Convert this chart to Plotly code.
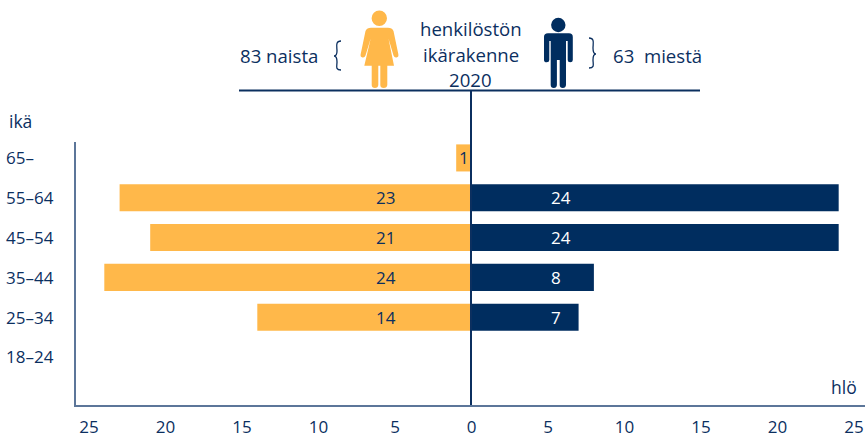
import plotly.graph_objects as go

ages = ["18–24", "25–34", "35–44", "45–54", "55–64", "65–"]
women = [0, 14, 24, 21, 23, 1]
men = [0, 7, 8, 24, 24, 0]
tick_vals = [-25, -20, -15, -10, -5, 0, 5, 10, 15, 20, 25]
tick_text = ["25", "20", "15", "10", "5", "0", "5", "10", "15", "20", "25"]

NAVY = "#0B2F5F"
BAR_NAVY = "#002D5F"
YEL = "#FFB84A"
FONT = "Open Sans"
W, H = 865, 436
L, R, T, B = 76, 865, 142, 405


def px(x):
    return (x - L) / (R - L)


def py(y):
    return (B - y) / (B - T)


def P(cmds):
    out = []
    for c in cmds:
        if isinstance(c, str):
            out.append(c)
        else:
            out.append(f"{px(c[0]):.5f},{py(c[1]):.5f}")
    return " ".join(out)


def blob(cmds, color):
    return dict(type="path", xref="paper", yref="paper", path=P(cmds), fillcolor=color,
                line=dict(color=color, width=0), layer="above")


def circ(cx, cy, r, color):
    return dict(type="circle", xref="paper", yref="paper", x0=px(cx - r), x1=px(cx + r),
                y0=py(cy + r), y1=py(cy - r), fillcolor=color, line=dict(width=0))


def hline(x0, x1, y, width, color=NAVY):
    return dict(type="line", xref="paper", yref="paper", x0=px(x0), x1=px(x1), y0=py(y), y1=py(y),
                line=dict(color=color, width=width))


def stroke(cmds, width=1.3):
    return dict(type="path", xref="paper", yref="paper", path=P(cmds),
                line=dict(color=NAVY, width=width), fillcolor="rgba(0,0,0,0)")


shapes = [
    hline(239, 700, 90.5, 2),
    dict(type="line", xref="paper", yref="paper", x0=px(471), x1=px(471), y0=py(90), y1=py(405),
         line=dict(color=NAVY, width=2), layer="above"),
    circ(379.3, 18.3, 7.7, YEL),
    blob(["M", (371, 27.7), "L", (388, 27.7), "Q", (392, 27.7), (393.5, 31), "L", (398.3, 54), "Q", (399, 57), (396.5, 57.5),
          "Q", (394.5, 58), (393.5, 55.5), "L", (388.5, 38.5), "L", (394, 65.7), "L", (387.3, 65.7), "L", (387.3, 85),
          "Q", (387, 88), (383.7, 88), "Q", (380.3, 88), (380.3, 85), "L", (380.3, 65.7), "L", (378.3, 65.7), "L", (378.3, 85),
          "Q", (378, 88), (375, 88), "Q", (371.7, 88), (371.7, 85), "L", (371.7, 65.7), "L", (364.3, 65.7), "L", (370.7, 38.5),
          "L", (365.5, 55.5), "Q", (364.5, 58), (362.5, 57.5), "Q", (360, 57), (360.7, 54), "L", (365.5, 31),
          "Q", (367, 27.7), (371, 27.7), "Z"], YEL),
    circ(558.3, 25, 7.2, BAR_NAVY),
    blob(["M", (548, 33.3), "L", (569, 33.3), "Q", (572.8, 33.3), (572.8, 37), "L", (572.8, 60), "Q", (572.8, 62.3), (570.2, 62.3),
          "Q", (567.7, 62.3), (567.7, 60), "L", (567.7, 41), "L", (566, 41), "L", (566, 85), "Q", (565.7, 88), (562.8, 88),
          "Q", (559.7, 88), (559.7, 85), "L", (559.7, 60), "L", (556.9, 60), "L", (556.9, 85), "Q", (556.7, 88), (553.8, 88),
          "Q", (550.7, 88), (550.7, 85), "L", (550.7, 41), "L", (549.3, 41), "L", (549.3, 60), "Q", (549.3, 62.3), (546.7, 62.3),
          "Q", (544, 62.3), (544, 60), "L", (544, 37), "Q", (544, 33.3), (548, 33.3), "Z"], BAR_NAVY),
    stroke(["M", (341, 41), "C", (335, 41), (337, 47), (337, 51), "C", (337, 55), (336, 56), (334, 56),
            "C", (336, 56), (337, 58), (337, 62), "C", (337, 66), (335, 70), (341, 70)]),
    stroke(["M", (589, 38), "C", (595, 38), (593, 44), (593, 48), "C", (593, 52), (594, 54), (596, 54),
            "C", (594, 54), (593, 56), (593, 60), "C", (593, 64), (595, 68), (589, 68)]),
]

fig = go.Figure()
fig.add_bar(y=ages, x=[-v if v else None for v in women], orientation="h", marker=dict(color=YEL, line_width=0),
            hoverinfo="skip", showlegend=False)
fig.add_bar(y=ages, x=[v if v else None for v in men], orientation="h", marker=dict(color=BAR_NAVY, line_width=0),
            hoverinfo="skip", showlegend=False)

ann = []


def note(x, y, text, size=18.6, anchor="center"):
    ann.append(dict(xref="paper", yref="paper", x=px(x), y=py(y), text=text, showarrow=False, xanchor=anchor,
                    yanchor="middle", font=dict(family=FONT, size=size, color=NAVY)))


for a, w, m in zip(ages, women, men):
    ann.append(dict(xref="paper", yref="y", x=px(4), y=a, text=a, showarrow=False, xanchor="left",
                    font=dict(family=FONT, size=17, color=NAVY), yanchor="middle"))
    if w:
        ann.append(dict(xref="x", yref="y", x=-5.6 if w > 1 else -0.5, y=a, text=str(w), showarrow=False,
                        font=dict(family=FONT, size=17, color=NAVY)))
    if m:
        ann.append(dict(xref="x", yref="y", x=5.5, xshift=5 if m >= 10 else 0, y=a, text=str(m), showarrow=False,
                        font=dict(family=FONT, size=17, color="#FFFFFF")))

note(279, 55.5, "83 naista")
note(657, 55.5, "63  miestä")
note(470.5, 28, "henkilöstön")
note(470.5, 54, "ikärakenne")
note(470.5, 79.5, "2020")
note(7, 121, "ikä", anchor="left", size=17.5)
note(844, 387, "hlö", size=17.5)

fig.update_layout(
    width=W, height=H, autosize=False, barmode="relative", bargap=0.32,
    margin=dict(l=L, r=W - R, t=T, b=H - B, pad=0),
    paper_bgcolor="white", plot_bgcolor="white",
    font=dict(family=FONT, size=17, color=NAVY),
    shapes=shapes, annotations=ann, showlegend=False,
    xaxis=dict(range=[-25.85, 25.72], tickmode="array", tickvals=tick_vals, ticktext=tick_text, showgrid=False,
               zeroline=False, showline=True, linecolor="#5C7699", linewidth=2, ticks="", automargin=False,
               ticklabelstandoff=6, tickfont=dict(family=FONT, size=17, color=NAVY)),
    yaxis=dict(type="category", categoryorder="array", categoryarray=ages, range=[-1.206, 5.40], showgrid=False,
               zeroline=False, showline=True, linecolor="#5C7699", linewidth=2, ticks="", showticklabels=False),
)
fig.write_html("out.html", config={"displayModeBar": False},
               post_script="document.body.style.margin='0';document.body.style.overflow='hidden';")
